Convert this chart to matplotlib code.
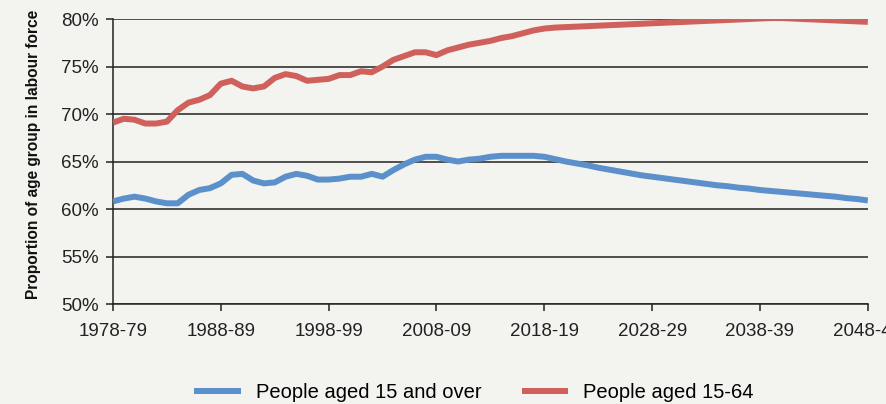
import numpy as np
import matplotlib.pyplot as plt

# Financial years 1978-79 .. 2048-49
years = [f"{y}-{str(y + 1)[-2:]}" for y in range(1978, 2049)]

aged_15_over = [
    60.8, 61.1, 61.3, 61.1, 60.8, 60.6, 60.6, 61.5, 62.0, 62.2,
    62.7, 63.6, 63.7, 63.0, 62.7, 62.8, 63.4, 63.7, 63.5, 63.1,
    63.1, 63.2, 63.4, 63.4, 63.7, 63.4, 64.1, 64.7, 65.2, 65.5,
    65.5, 65.2, 65.0, 65.2, 65.3, 65.5, 65.6, 65.6, 65.6, 65.6,
    65.5, 65.25, 65.0, 64.8, 64.6, 64.35, 64.15, 63.95, 63.75, 63.55,
    63.4, 63.25, 63.1, 62.95, 62.8, 62.65, 62.5, 62.4, 62.25, 62.15,
    62.0, 61.9, 61.8, 61.7, 61.6, 61.5, 61.4, 61.3, 61.15, 61.05,
    60.9,
]

aged_15_64 = [
    69.1, 69.5, 69.4, 69.0, 69.0, 69.2, 70.4, 71.2, 71.5, 72.0,
    73.2, 73.5, 72.9, 72.7, 72.9, 73.8, 74.2, 74.0, 73.5, 73.6,
    73.7, 74.1, 74.1, 74.5, 74.4, 75.0, 75.7, 76.1, 76.5, 76.5,
    76.2, 76.7, 77.0, 77.3, 77.5, 77.7, 78.0, 78.2, 78.5, 78.8,
    79.0, 79.1, 79.15, 79.2, 79.25, 79.3, 79.35, 79.4, 79.45, 79.5,
    79.55, 79.6, 79.65, 79.7, 79.75, 79.8, 79.85, 79.9, 79.95, 80.0,
    80.05, 80.1, 80.1, 80.05, 80.0, 79.95, 79.9, 79.85, 79.8, 79.75,
    79.7,
]

plt.rcParams['font.family'] = ['Liberation Sans', 'DejaVu Sans']

bg = '#f3f3ef'
fig = plt.figure(figsize=(8.86, 4.04), dpi=100, facecolor=bg)
ax = fig.add_axes([0.1275, 0.2475, 0.852, 0.7054], facecolor=bg)

x = np.arange(len(years))
ax.plot(x, aged_15_over, color='#5b90cb', lw=4.3, solid_capstyle='butt',
        label='People aged 15 and over', zorder=3)
ax.plot(x, aged_15_64, color='#d0605b', lw=4.3, solid_capstyle='butt',
        label='People aged 15-64', zorder=3)

ax.set_xlim(0, len(years) - 1)
ax.set_ylim(50, 80)
ax.set_yticks(range(50, 81, 5))
ax.set_yticklabels([f"{v}%" for v in range(50, 81, 5)])
ax.set_xticks(x[::10])
ax.set_xticklabels(years[::10])
ax.yaxis.grid(True, color='#222222', lw=1.1)
ax.set_axisbelow(True)

for s in ['top', 'right']:
    ax.spines[s].set_visible(False)
for s in ['left', 'bottom']:
    ax.spines[s].set_color('#222222')
    ax.spines[s].set_linewidth(1.1)

ax.tick_params(axis='both', labelsize=13.5, colors='#222222', length=5, width=1.1)
ax.tick_params(axis='x', pad=9)
ax.tick_params(axis='y', pad=5)

fig.text(0.038, 0.618, 'Proportion of age group in labour force', rotation=90,
         ha='center', va='center', fontsize=11.2, fontweight='bold',
         color='#111111')

fig.legend(loc='center', bbox_to_anchor=(0.535, 0.028), ncol=2, frameon=False,
           fontsize=14.5, handlelength=2.3, columnspacing=2.0, handletextpad=0.75)

fig.savefig('out.png', dpi=100, facecolor=bg)
